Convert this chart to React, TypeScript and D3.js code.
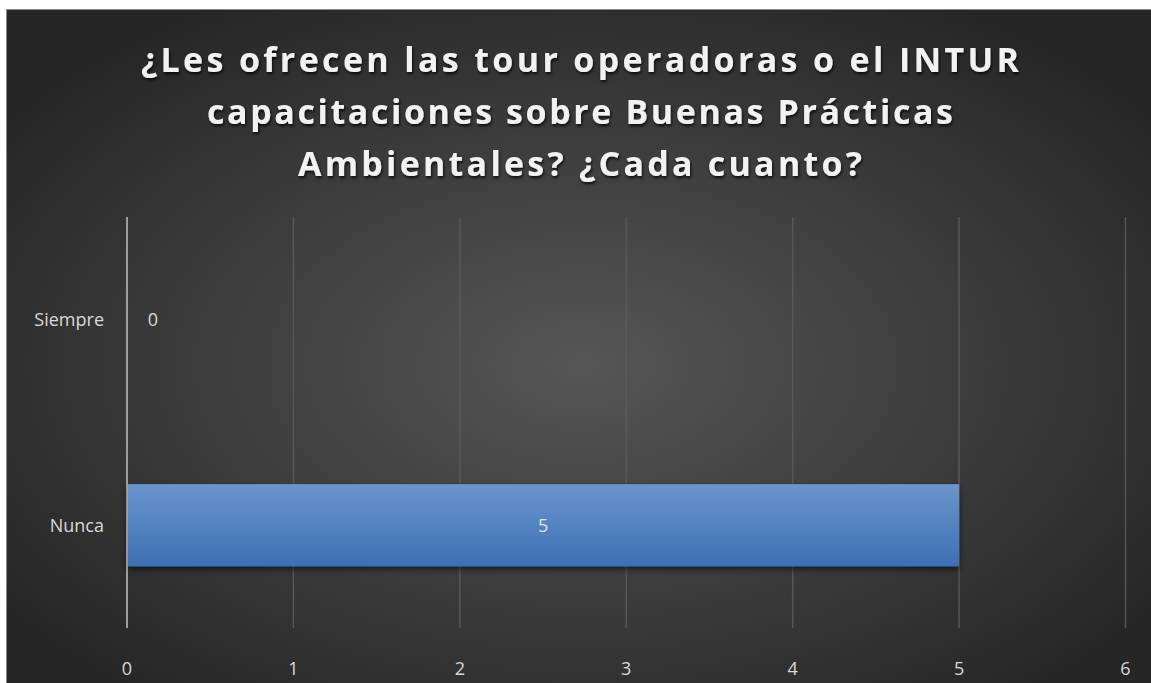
import React from "react";
import * as d3 from "d3";

const categories = ["Siempre", "Nunca"];
const values = [0, 5];
const xTicks = [0, 1, 2, 3, 4, 5, 6];
const titleLines = [
  "¿Les ofrecen las tour operadoras o el INTUR",
  "capacitaciones sobre Buenas Prácticas",
  "Ambientales? ¿Cada cuanto?",
];

const W = 1151;
const H = 683;
const plot = { left: 127, right: 1125.5, top: 217, bottom: 628 };
const titleWidths = [878, 746, 564];
const titleY = [72, 124, 176];
const FONT = "'Open Sans', sans-serif";

export default function App() {
  const x = d3.scaleLinear().domain([0, 6]).range([plot.left, plot.right]);
  const y = d3
    .scaleBand<string>()
    .domain(categories)
    .range([plot.top, plot.bottom])
    .paddingInner(0.6)
    .paddingOuter(0.3);

  return (
    <svg
      width={W}
      height={H}
      style={{ position: "absolute", left: 0, top: 0 }}
      xmlns="http://www.w3.org/2000/svg"
    >
      <defs>
        <radialGradient id="bg" cx="50%" cy="52%" r="62%">
          <stop offset="0%" stopColor="#565656" />
          <stop offset="100%" stopColor="#262626" />
        </radialGradient>
        <linearGradient id="bar" x1="0" y1="0" x2="0" y2="1">
          <stop offset="0%" stopColor="#6b95cc" />
          <stop offset="100%" stopColor="#3b70b5" />
        </linearGradient>
        <filter id="shadow" x="-5%" y="-20%" width="110%" height="160%">
          <feGaussianBlur in="SourceAlpha" stdDeviation="3" />
          <feOffset dx="0" dy="3" result="b" />
          <feComponentTransfer>
            <feFuncA type="linear" slope="0.6" />
          </feComponentTransfer>
          <feMerge>
            <feMergeNode />
            <feMergeNode in="SourceGraphic" />
          </feMerge>
        </filter>
        <filter id="tshadow" x="-5%" y="-30%" width="110%" height="170%">
          <feGaussianBlur in="SourceAlpha" stdDeviation="1.5" />
          <feOffset dx="1" dy="2" result="b" />
          <feComponentTransfer>
            <feFuncA type="linear" slope="0.8" />
          </feComponentTransfer>
          <feMerge>
            <feMergeNode />
            <feMergeNode in="SourceGraphic" />
          </feMerge>
        </filter>
      </defs>
      <rect x={0} y={0} width={W} height={H} fill="#ffffff" />
      <rect x={6.5} y={9.5} width={W} height={H} fill="url(#bg)" stroke="#8a8a8a" strokeWidth={1} />

      {/* gridlines */}
      {xTicks.map((t) => (
        <line
          key={"g" + t}
          x1={x(t)}
          x2={x(t)}
          y1={plot.top}
          y2={plot.bottom}
          stroke={t === 0 ? "#a6a6a6" : "#5a5a5a"}
          strokeWidth={1.5}
          strokeOpacity={t === 0 ? 1 : 0.9}
        />
      ))}

      {/* bars */}
      {categories.map((c, i) =>
        values[i] > 0 ? (
          <rect
            key={"b" + c}
            x={x(0)}
            y={y(c)!}
            width={x(values[i]) - x(0)}
            height={y.bandwidth()}
            fill="url(#bar)"
            filter="url(#shadow)"
          />
        ) : null
      )}
      {/* axis line over bar */}
      <line x1={x(0)} x2={x(0)} y1={plot.top} y2={plot.bottom} stroke="#a6a6a6" strokeWidth={1.5} />

      {/* value labels */}
      {categories.map((c, i) => {
        const cy = y(c)! + y.bandwidth() / 2;
        const inside = values[i] > 0;
        return (
          <text
            key={"v" + c}
            x={inside ? (x(0) + x(values[i])) / 2 : x(0) + 26}
            y={cy}
            dy="0.35em"
            textAnchor="middle"
            fontFamily={FONT}
            fontSize={18}
            fill={inside ? "#dbe4f1" : "#d9d9d9"}
          >
            {values[i]}
          </text>
        );
      })}

      {/* category labels */}
      {categories.map((c) => (
        <text
          key={"c" + c}
          x={104}
          y={y(c)! + y.bandwidth() / 2}
          dy="0.35em"
          textAnchor="end"
          fontFamily={FONT}
          fontSize={18}
          fill="#d9d9d9"
        >
          {c}
        </text>
      ))}

      {/* x tick labels */}
      {xTicks.map((t) => (
        <text
          key={"t" + t}
          x={x(t)}
          y={669}
          dy="0.35em"
          textAnchor="middle"
          fontFamily={FONT}
          fontSize={18}
          fill="#d9d9d9"
        >
          {t}
        </text>
      ))}

      {/* title */}
      <g filter="url(#tshadow)">
        {titleLines.map((l, i) => (
          <text
            key={"tt" + i}
            x={580}
            y={titleY[i]}
            textAnchor="middle"
            fontFamily={FONT}
            fontWeight="bold"
            fontSize={34}
            fill="#f2f2f2"
            textLength={titleWidths[i]}
            lengthAdjust="spacing"
          >
            {l}
          </text>
        ))}
      </g>
    </svg>
  );
}
